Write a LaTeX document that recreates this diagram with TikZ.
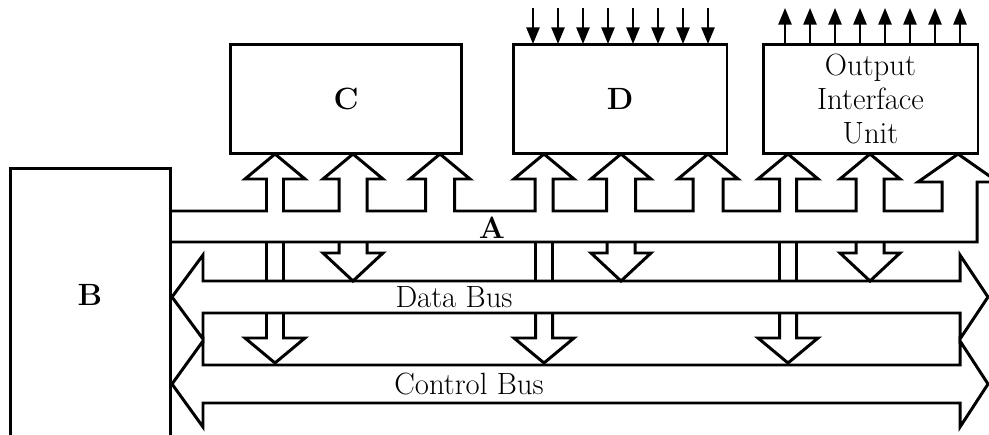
\documentclass[tikz,border=0pt]{standalone}
\usepackage{tikz}
\usetikzlibrary{arrows.meta, positioning}
\tikzset{
  unit/.style={draw, line width=1.7pt, inner sep=0pt, align=center, font=\fontsize{17.5}{19.5}\selectfont},
  bus/.style={line width=1.7pt, line join=miter},
  sig/.style={line width=1.2pt, -{Triangle[length=9.5pt, width=7.5pt]}},
  lbl/.style={font=\fontsize{17.5}{20}\selectfont},
}

\begin{document}
\begin{tikzpicture}[x=0.02cm, y=-0.02cm]
\clip (0,0) rectangle (989,435);

% units
\node[unit, minimum width=3.22cm, minimum height=5.64cm] (b) at (90.5,309) {};
\node[lbl] (blbl) at (90,295) {\textbf{B}};
\node[unit, minimum width=4.64cm, minimum height=2.2cm] (c) at (346,99) {\textbf{C}};
\node[unit, minimum width=4.28cm, minimum height=2.2cm] (d) at (620,99) {\textbf{D}};
\node[unit, minimum width=4.30cm, minimum height=2.2cm] (out) at (870.5,99) {Output\\Interface\\Unit};

% input and output lines
\foreach \x in {533,558,...,708}
  \draw[sig] (\x,8) -- (\x,44);
\foreach \x in {785,810,...,960}
  \draw[sig] (\x,44) -- (\x,8);

% bus A with arrows up into the units
\draw[bus] (171,211)
  \foreach \c/\w in {275/8.5, 353/14, 440/14.5, 544/9, 621/14.5, 708/15, 788/8.5, 870/14} {
    -- (\c-\w,211) -- (\c-\w,179) -- (\c-30,179) -- (\c,154)
    -- (\c+30,179) -- (\c+\w,179) -- (\c+\w,211)
  }
  -- (942,211) -- (942,182) -- (918,182) -- (958,154) -- (998,182)
  -- (977,182) -- (977,242) -- (171,242);
\node[lbl] (a) at (492,228) {\textbf{A}};

% links down to the control bus
\foreach \c in {275,544,788} {
  \draw[bus] (\c-8.5,242) -- (\c-8.5,281) (\c+8.5,242) -- (\c+8.5,281);
  \draw[bus] (\c-8.5,313) -- (\c-8.5,338) -- (\c-30,338) -- (\c,363)
    -- (\c+30,338) -- (\c+8.5,338) -- (\c+8.5,313);
}
% links down to the data bus
\foreach \c in {353,621,870}
  \draw[bus] (\c-14,242) -- (\c-14,253) -- (\c-30,253) -- (\c,281)
    -- (\c+30,253) -- (\c+14,253) -- (\c+14,242);

% data bus and control bus
\draw[bus] (172,297) -- (203,255) -- (203,281) -- (960,281) -- (960,255) -- (988,297)
  -- (960,339) -- (960,313) -- (203,313) -- (203,339) -- cycle;
\draw[bus] (172,384) -- (203,341) -- (203,365) -- (960,365) -- (960,341) -- (988,384)
  -- (960,427) -- (960,403) -- (203,403) -- (203,427) -- cycle;
\node[lbl] (databus) at (454,297) {Data Bus};
\node[lbl] (ctrlbus) at (469,384) {Control Bus};
\end{tikzpicture}
\end{document}
